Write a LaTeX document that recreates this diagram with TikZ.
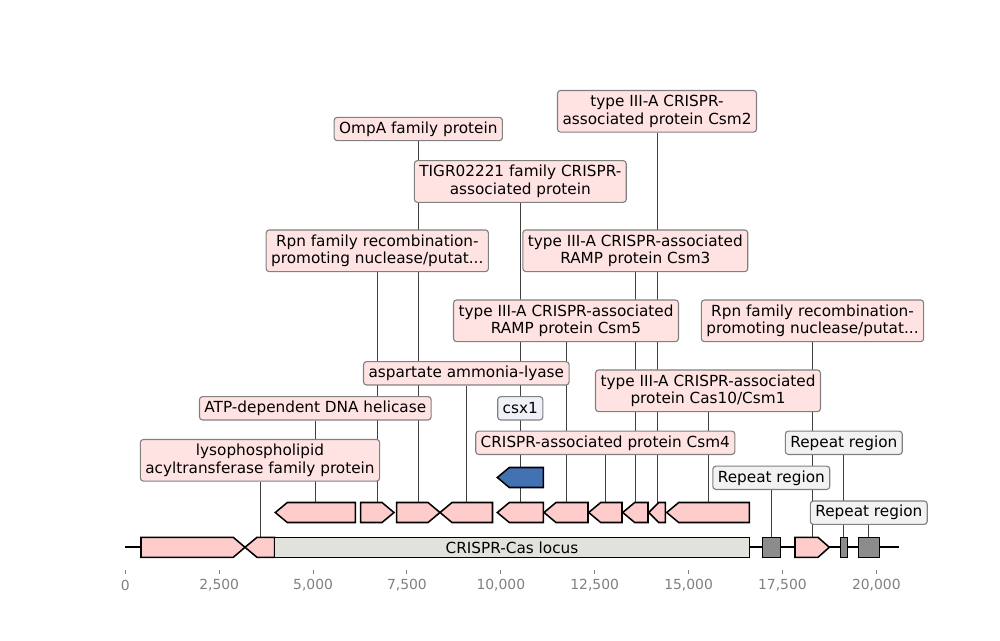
\documentclass[tikz,border=0pt]{standalone}
\usepackage{fontspec}
\setmainfont{DejaVu Sans}
\usetikzlibrary{backgrounds}
\definecolor{genepink}{HTML}{FFCCCC}
\definecolor{labpink}{HTML}{FFE3E3}
\definecolor{labblue}{HTML}{EEF2F8}
\definecolor{labgrey}{HTML}{F2F2F2}
\definecolor{edgegrey}{HTML}{808080}
\definecolor{locusgrey}{HTML}{E2E2DC}
\definecolor{repgrey}{HTML}{8C8C8C}
\definecolor{csxblue}{HTML}{4372B2}
\tikzset{
  gene/.style={draw=black, line width=1.1pt, fill=genepink},
  lab/.style={draw=edgegrey, line width=0.8pt, fill=labpink, rounded corners=2.2pt,
    font=\fontsize{11}{12.7}\selectfont, align=center, inner xsep=3.6pt, inner ysep=2pt,
    minimum height=16.8pt},
  labtwo/.style={lab, minimum height=30pt},
  tie/.style={black!75, line width=0.6pt},
  ticklab/.style={text=edgegrey, font=\fontsize{10}{12}\selectfont},
}
\begin{document}
\begin{tikzpicture}[x=0.72pt,y=-0.72pt]
\useasboundingbox (0,0) rectangle (1000,640);

% Axe et graduations
\draw[line width=1.4pt] (125.3,547.3) -- (899.3,547.3);
\draw[edgegrey, line width=0.7pt] (125.3,570) -- (125.3,574.3);
\draw[edgegrey, line width=0.7pt] (219.2,570) -- (219.2,574.3);
\draw[edgegrey, line width=0.7pt] (313.1,570) -- (313.1,574.3);
\draw[edgegrey, line width=0.7pt] (406.9,570) -- (406.9,574.3);
\draw[edgegrey, line width=0.7pt] (500.8,570) -- (500.8,574.3);
\draw[edgegrey, line width=0.7pt] (594.7,570) -- (594.7,574.3);
\draw[edgegrey, line width=0.7pt] (688.6,570) -- (688.6,574.3);
\draw[edgegrey, line width=0.7pt] (782.4,570) -- (782.4,574.3);
\draw[edgegrey, line width=0.7pt] (876.3,570) -- (876.3,574.3);
\node[ticklab] (t0) at (125.3,585) {0};
\node[ticklab] (t1) at (219.2,585) {2,500};
\node[ticklab] (t2) at (313.1,585) {5,000};
\node[ticklab] (t3) at (406.9,585) {7,500};
\node[ticklab] (t4) at (500.8,585) {10,000};
\node[ticklab] (t5) at (594.7,585) {12,500};
\node[ticklab] (t6) at (688.6,585) {15,000};
\node[ticklab] (t7) at (782.4,585) {17,500};
\node[ticklab] (t8) at (876.3,585) {20,000};

% Ligne 0
\draw[gene] (141,537.3) -- (233.3,537.3) -- (245,547.3) -- (233.3,557.3) -- (141,557.3) -- cycle;
\draw[gene] (245,547.3) -- (257,537.3) -- (274.7,537.3) -- (274.7,557.3) -- (257,557.3) -- cycle;
\draw[gene, fill=locusgrey] (274.7,537.3) rectangle (749.3,557.3);
\node[font=\fontsize{11}{12.7}\selectfont] (locus) at (512,547.3) {CRISPR-Cas locus};
\draw[gene, fill=repgrey] (762.3,537.3) rectangle (780.3,557.3);
\draw[gene] (795,537.3) -- (818,537.3) -- (829.3,547.3) -- (818,557.3) -- (795,557.3) -- cycle;
\draw[gene, fill=repgrey] (840.3,537.3) rectangle (847.3,557.3);
\draw[gene, fill=repgrey] (858.3,537.3) rectangle (879.3,557.3);
\coordinate (lyso-g) at (260,537.3);
\coordinate (repa-g) at (771.3,537.3);
\coordinate (rpnd-g) at (812.5,537.3);
\coordinate (repb-g) at (843.8,537.3);
\coordinate (repc-g) at (868.8,537.3);

% Ligne 1
\draw[gene] (275.3,512.5) -- (287.3,502.5) -- (355.3,502.5) -- (355.3,522.5) -- (287.3,522.5) -- cycle;
\draw[gene] (360.7,502.5) -- (382,502.5) -- (394,512.5) -- (382,522.5) -- (360.7,522.5) -- cycle;
\draw[gene] (396.7,502.5) -- (428,502.5) -- (440,512.5) -- (428,522.5) -- (396.7,522.5) -- cycle;
\draw[gene] (440,512.5) -- (452,502.5) -- (492.5,502.5) -- (492.5,522.5) -- (452,522.5) -- cycle;
\draw[gene] (497.3,512.5) -- (509.3,502.5) -- (543.3,502.5) -- (543.3,522.5) -- (509.3,522.5) -- cycle;
\draw[gene] (544,512.5) -- (556,502.5) -- (588,502.5) -- (588,522.5) -- (556,522.5) -- cycle;
\draw[gene] (588.7,512.5) -- (600.7,502.5) -- (622,502.5) -- (622,522.5) -- (600.7,522.5) -- cycle;
\draw[gene] (622.7,512.5) -- (634.7,502.5) -- (648,502.5) -- (648,522.5) -- (634.7,522.5) -- cycle;
\draw[gene] (648.7,512.5) -- (658.7,502.5) -- (665.3,502.5) -- (665.3,522.5) -- (658.7,522.5) -- cycle;
\draw[gene] (666.7,512.5) -- (678.7,502.5) -- (749.3,502.5) -- (749.3,522.5) -- (678.7,522.5) -- cycle;
\coordinate (atp-g) at (315.3,502.5);
\coordinate (rpng-g) at (377.3,502.5);
\coordinate (ompa-g) at (418.3,502.5);
\coordinate (aspa-g) at (466.3,502.5);
\coordinate (tigr-g) at (520.3,502.5);
\coordinate (csmv-g) at (566,502.5);
\coordinate (csmiv-g) at (605.3,502.5);
\coordinate (csmiii-g) at (635.3,502.5);
\coordinate (csmii-g) at (657,502.5);
\coordinate (cas-g) at (708,502.5);

% Ligne 2 (csx1)
\draw[gene, fill=csxblue] (497.3,477.5) -- (509.3,467.5) -- (543.3,467.5) -- (543.3,487.5) -- (509.3,487.5) -- cycle;
\coordinate (csx-g) at (520.3,467.5);

% Etiquettes
\node[labtwo] (csmii) at (657,111.3) {type III-A CRISPR-\\associated protein Csm2};
\node[lab] (ompa) at (418.3,129) {OmpA family protein};
\node[labtwo] (tigr) at (520.3,181.5) {TIGR02221 family CRISPR-\\associated protein};
\node[labtwo] (rpng) at (377.3,250.8) {Rpn family recombination-\\promoting nuclease/putat...};
\node[labtwo] (csmiii) at (635.3,250.8) {type III-A CRISPR-associated\\RAMP protein Csm3};
\node[labtwo] (csmv) at (566,320.8) {type III-A CRISPR-associated\\RAMP protein Csm5};
\node[labtwo] (rpnd) at (812.5,320.8) {Rpn family recombination-\\promoting nuclease/putat...};
\node[lab] (aspa) at (466.3,373.3) {aspartate ammonia-lyase};
\node[labtwo] (cas) at (708,390.8) {type III-A CRISPR-associated\\protein Cas10/Csm1};
\node[lab] (atp) at (315.3,408.3) {ATP-dependent DNA helicase};
\node[lab, fill=labblue] (csx) at (520.3,408.3) {csx1};
\node[lab] (csmiv) at (605.3,442.8) {CRISPR-associated protein Csm4};
\node[lab, fill=labgrey] (repb) at (843.8,442.8) {Repeat region};
\node[labtwo] (lyso) at (260,460.3) {lysophospholipid\\acyltransferase family protein};
\node[lab, fill=labgrey] (repa) at (771.3,477.8) {Repeat region};
\node[lab, fill=labgrey] (repc) at (868.8,512.7) {Repeat region};

% Traits vers les gènes
\begin{scope}[on background layer]
\draw[tie] (csmii) -- (csmii-g);
\draw[tie] (ompa) -- (ompa-g);
\draw[tie] (tigr) -- (tigr-g);
\draw[tie] (rpng) -- (rpng-g);
\draw[tie] (csmiii) -- (csmiii-g);
\draw[tie] (csmv) -- (csmv-g);
\draw[tie] (rpnd) -- (rpnd-g);
\draw[tie] (aspa) -- (aspa-g);
\draw[tie] (cas) -- (cas-g);
\draw[tie] (atp) -- (atp-g);
\draw[tie] (csx) -- (csx-g);
\draw[tie] (csmiv) -- (csmiv-g);
\draw[tie] (repb) -- (repb-g);
\draw[tie] (lyso) -- (lyso-g);
\draw[tie] (repa) -- (repa-g);
\draw[tie] (repc) -- (repc-g);
\end{scope}

\end{tikzpicture}
\end{document}
